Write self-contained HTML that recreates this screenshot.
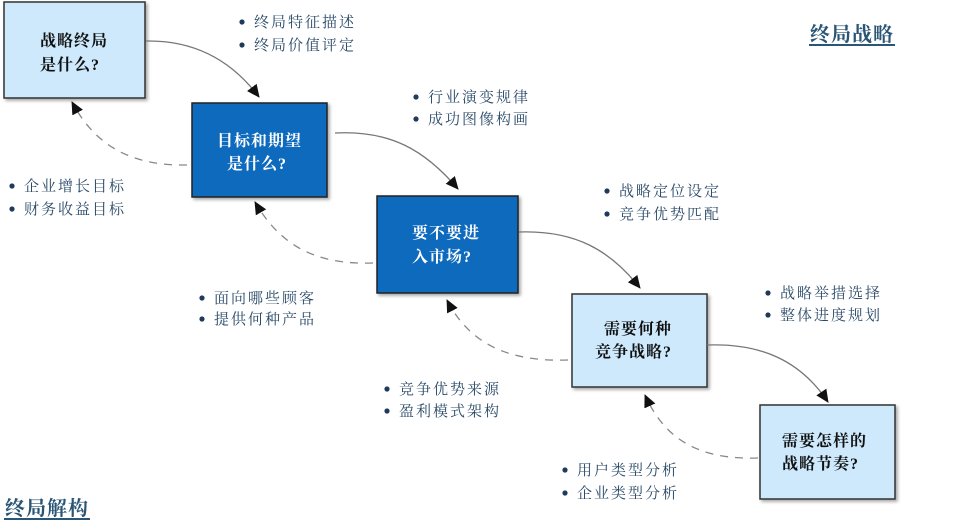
<!DOCTYPE html>
<html><head><meta charset="utf-8"><style>
html,body{margin:0;padding:0;background:#fff;width:960px;height:523px;overflow:hidden}
svg{display:block}
text{font-family:"Liberation Serif","Noto Serif CJK SC","Noto Sans CJK SC",serif}
.b{font-size:15px;fill:#2a4a68;letter-spacing:2px}
.t{font-size:16px;font-weight:bold;letter-spacing:1px}
</style></head><body>
<svg width="960" height="523" viewBox="0 0 960 523" xmlns="http://www.w3.org/2000/svg">
<defs>
<marker id="ah" markerWidth="14" markerHeight="14" refX="12" refY="7" orient="auto" markerUnits="userSpaceOnUse">
<path d="M0,1 L13,7 L0,13 Z" fill="#111"/></marker>
<filter id="sh" x="-10%" y="-10%" width="130%" height="130%"><feDropShadow dx="2" dy="2" stdDeviation="1.5" flood-color="#000" flood-opacity="0.35"/></filter>
</defs>
<rect x="4" y="2" width="141" height="96" fill="#cde9fb" stroke="#333" stroke-width="1.5" filter="url(#sh)"/>
<rect x="192" y="103" width="135" height="94" fill="#0a6bbd" stroke="#222" stroke-width="1.5" filter="url(#sh)"/>
<rect x="377" y="196" width="141" height="97" fill="#0a6bbd" stroke="#222" stroke-width="1.5" filter="url(#sh)"/>
<rect x="572" y="294" width="135" height="93" fill="#cde9fb" stroke="#333" stroke-width="1.5" filter="url(#sh)"/>
<rect x="760" y="405" width="135" height="94" fill="#cde9fb" stroke="#333" stroke-width="1.5" filter="url(#sh)"/>
<text class="t" x="40" y="46" fill="#111">战略终局</text>
<text class="t" x="40" y="70" fill="#111">是什么?</text>
<text class="t" x="217" y="146" fill="#fff">目标和期望</text>
<text class="t" x="227" y="169" fill="#fff">是什么?</text>
<text class="t" x="412" y="238" fill="#fff">要不要进</text>
<text class="t" x="412" y="262" fill="#fff">入市场?</text>
<text class="t" x="604" y="334" fill="#111">需要何种</text>
<text class="t" x="595" y="357" fill="#111">竞争战略?</text>
<text class="t" x="782" y="446" fill="#111">需要怎样的</text>
<text class="t" x="782" y="469" fill="#111">战略节奏?</text>
<g fill="none" stroke="#777" stroke-width="1.3" marker-end="url(#ah)">
<path d="M146,41 C200,40 235,65 259,97"/>
<path d="M335,133 C390,130 425,150 458,189"/>
<path d="M519,232 C575,230 610,250 640,288"/>
<path d="M707,345 C760,343 800,360 828,402"/>
</g>
<g fill="none" stroke="#888" stroke-width="1.3" stroke-dasharray="8,7" marker-end="url(#ah)">
<path d="M187,165 C130,166 95,145 72,102"/>
<path d="M373,263 C315,265 280,245 255,202"/>
<path d="M568,360 C510,362 470,345 447,300"/>
<path d="M758,458 C700,460 665,440 645,395"/>
</g>
<g fill="#1f3a5a">
<circle cx="242" cy="22" r="2.6"/><circle cx="242" cy="45" r="2.6"/>
<circle cx="416" cy="97" r="2.6"/><circle cx="416" cy="119" r="2.6"/>
<circle cx="12" cy="186" r="2.6"/><circle cx="12" cy="209" r="2.6"/>
<circle cx="607" cy="191" r="2.6"/><circle cx="607" cy="214" r="2.6"/>
<circle cx="202" cy="298" r="2.6"/><circle cx="202" cy="319" r="2.6"/>
<circle cx="768" cy="293" r="2.6"/><circle cx="768" cy="315" r="2.6"/>
<circle cx="387" cy="389" r="2.6"/><circle cx="387" cy="411" r="2.6"/>
<circle cx="565" cy="470" r="2.6"/><circle cx="565" cy="493" r="2.6"/>
</g>
<text class="b" x="254" y="27">终局特征描述</text>
<text class="b" x="254" y="50">终局价值评定</text>
<text class="b" x="428" y="102">行业演变规律</text>
<text class="b" x="428" y="124">成功图像构画</text>
<text class="b" x="24" y="191">企业增长目标</text>
<text class="b" x="24" y="214">财务收益目标</text>
<text class="b" x="619" y="196">战略定位设定</text>
<text class="b" x="619" y="219">竞争优势匹配</text>
<text class="b" x="214" y="303">面向哪些顾客</text>
<text class="b" x="214" y="324">提供何种产品</text>
<text class="b" x="780" y="298">战略举措选择</text>
<text class="b" x="780" y="320">整体进度规划</text>
<text class="b" x="399" y="394">竞争优势来源</text>
<text class="b" x="399" y="416">盈利模式架构</text>
<text class="b" x="577" y="475">用户类型分析</text>
<text class="b" x="577" y="498">企业类型分析</text>
<text x="810" y="41" font-size="20" font-weight="bold" fill="#2a5574" letter-spacing="1">终局战略</text>
<line x1="809" y1="45" x2="895" y2="45" stroke="#2a5574" stroke-width="2"/>
<text x="5" y="515" font-size="20" font-weight="bold" fill="#2a5574" letter-spacing="1">终局解构</text>
<line x1="4" y1="519" x2="90" y2="519" stroke="#2a5574" stroke-width="2"/>
</svg>
</body></html>
